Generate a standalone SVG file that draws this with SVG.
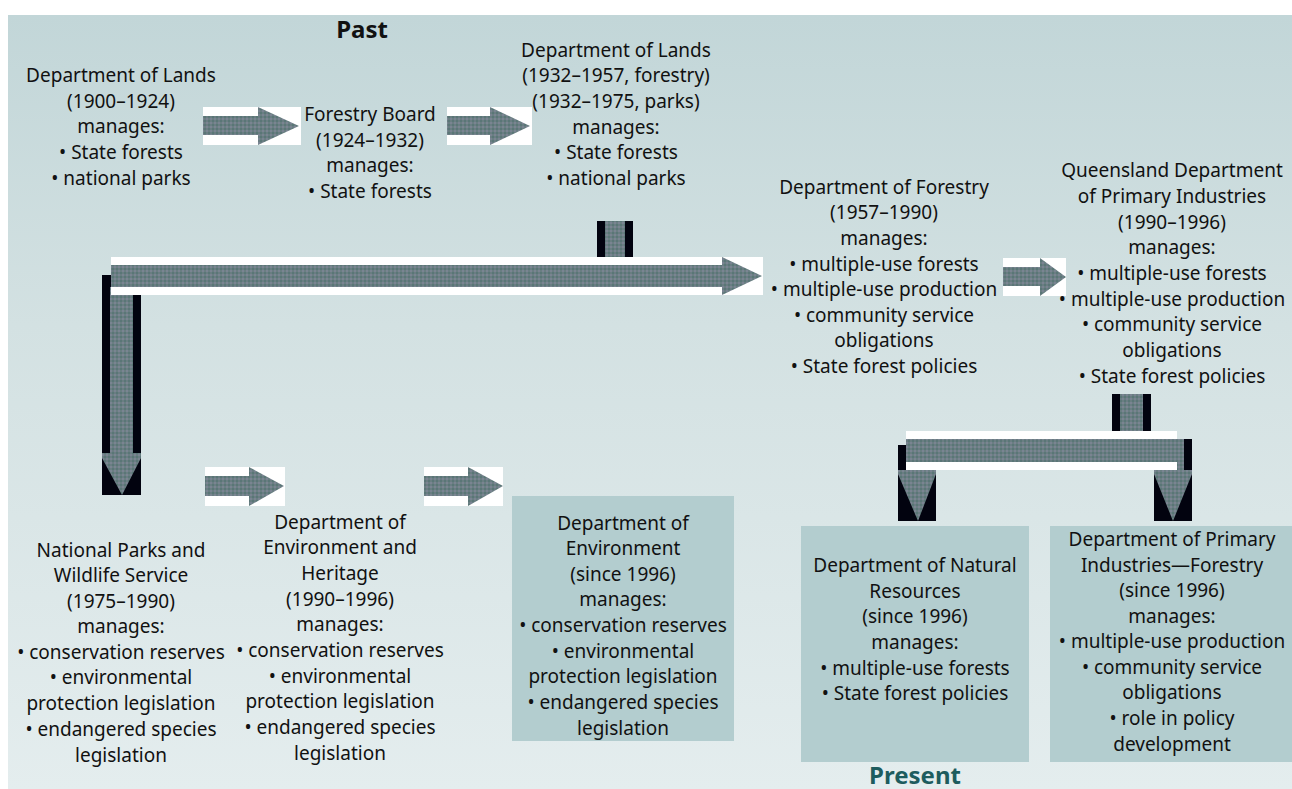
<svg xmlns="http://www.w3.org/2000/svg" width="1292" height="789" viewBox="0 0 1292 789">
<defs>
<linearGradient id="bg" x1="0" y1="0" x2="0" y2="1">
<stop offset="0" stop-color="#c2d6d8"/>
<stop offset="0.4" stop-color="#d3e1e2"/>
<stop offset="1" stop-color="#e4edee"/>
</linearGradient>
<pattern id="chk" width="4" height="4" patternUnits="userSpaceOnUse">
<rect width="4" height="4" fill="#6a7e82"/>
<rect width="2" height="2" fill="#5a7677"/>
<rect x="2" y="2" width="2" height="2" fill="#7a8492"/>
</pattern>
<style>
text{font-family:"Noto Sans","Open Sans",sans-serif;font-size:19px;fill:#111;text-anchor:middle}
.ttl{font-weight:bold;font-size:24px}
.pres{fill:#1d5c5e}
.box{fill:#b3cdcf}
.wb{fill:#fff}
.blk{fill:#02030f}
.ar{fill:url(#chk)}
</style>
</defs>
<rect x="0" y="0" width="1292" height="789" fill="#fff"/>
<rect x="8" y="15" width="1284" height="774" fill="url(#bg)"/>

<g id="connectors">
<rect class="wb" x="203" y="107" width="98" height="38"/>
<polygon class="ar" points="203,116 258,116 258,107 299,126 258,145 258,135 203,135"/>
<rect class="wb" x="447" y="107" width="85" height="38"/>
<polygon class="ar" points="447,116 490,116 490,107 530,126 490,145 490,135 447,135"/>
<rect class="blk" x="597" y="221" width="36" height="36"/>
<rect class="ar" x="605" y="221" width="20" height="36"/>
<rect class="blk" x="102" y="275" width="39" height="220"/>
<polygon class="ar" points="110,287 133,287 133,453 141,453 141,458 122,495 102,458 102,453 110,453"/>
<rect class="wb" x="111" y="257" width="652" height="38"/>
<polygon class="ar" points="111,265 722,265 722,257 762,276 722,295 722,287 111,287"/>
<rect class="wb" x="1003" y="258" width="63" height="38"/>
<polygon class="ar" points="1003,267 1040,267 1040,258 1066,277 1040,296 1040,286 1003,286"/>
<rect class="blk" x="1112" y="394" width="39" height="37"/>
<rect class="ar" x="1120" y="394" width="23" height="37"/>
<rect class="blk" x="898" y="445" width="38" height="76"/>
<polygon class="ar" points="906,445 928,445 928,470 936,470 936,474 918,521 898,474 898,470 906,470"/>
<rect class="blk" x="1154" y="439" width="38" height="82"/>
<polygon class="ar" points="1162,439 1184,439 1184,470 1192,470 1192,474 1173,521 1154,474 1154,470 1162,470"/>
<rect class="wb" x="906" y="431" width="271" height="39"/>
<rect class="ar" x="906" y="439" width="278" height="23"/>
<rect class="wb" x="205" y="467" width="80" height="39"/>
<polygon class="ar" points="205,476 249,476 249,467 284,486 249,506 249,496 205,496"/>
<rect class="wb" x="424" y="467" width="79" height="39"/>
<polygon class="ar" points="424,476 468,476 468,467 503,486 468,506 468,496 424,496"/>
</g>

<text class="ttl" x="362" y="38">Past</text>

<g id="lands1">
<text x="121" y="82">Department of Lands</text>
<text x="121" y="108">(1900–1924)</text>
<text x="121" y="133">manages:</text>
<text x="121" y="159">• State forests</text>
<text x="121" y="185">• national parks</text>
</g>

<g id="forestryBoard">
<text x="370" y="121">Forestry Board</text>
<text x="370" y="147">(1924–1932)</text>
<text x="370" y="172">manages:</text>
<text x="370" y="198">• State forests</text>
</g>

<g id="lands2">
<text x="616" y="57">Department of Lands</text>
<text x="616" y="82">(1932–1957, forestry)</text>
<text x="616" y="108">(1932–1975, parks)</text>
<text x="616" y="134">manages:</text>
<text x="616" y="159">• State forests</text>
<text x="616" y="185">• national parks</text>
</g>

<g id="forestry">
<text x="884" y="194">Department of Forestry</text>
<text x="884" y="219">(1957–1990)</text>
<text x="884" y="245">manages:</text>
<text x="884" y="271">• multiple-use forests</text>
<text x="884" y="296">• multiple-use production</text>
<text x="884" y="322">• community service</text>
<text x="884" y="347">obligations</text>
<text x="884" y="373">• State forest policies</text>
</g>

<g id="qdpi">
<text x="1172" y="177">Queensland Department</text>
<text x="1172" y="203">of Primary Industries</text>
<text x="1172" y="229">(1990–1996)</text>
<text x="1172" y="254">manages:</text>
<text x="1172" y="280">• multiple-use forests</text>
<text x="1172" y="306">• multiple-use production</text>
<text x="1172" y="331">• community service</text>
<text x="1172" y="357">obligations</text>
<text x="1172" y="383">• State forest policies</text>
</g>

<g id="npws">
<text x="121" y="557">National Parks and</text>
<text x="121" y="582">Wildlife Service</text>
<text x="121" y="608">(1975–1990)</text>
<text x="121" y="633">manages:</text>
<text x="121" y="659">• conservation reserves</text>
<text x="121" y="684">• environmental</text>
<text x="121" y="710">protection legislation</text>
<text x="121" y="736">• endangered species</text>
<text x="121" y="762">legislation</text>
</g>

<g id="envHeritage">
<text x="340" y="529">Department of</text>
<text x="340" y="554">Environment and</text>
<text x="340" y="580">Heritage</text>
<text x="340" y="606">(1990–1996)</text>
<text x="340" y="631">manages:</text>
<text x="340" y="657">• conservation reserves</text>
<text x="340" y="683">• environmental</text>
<text x="340" y="708">protection legislation</text>
<text x="340" y="734">• endangered species</text>
<text x="340" y="760">legislation</text>
</g>

<g id="environment">
<rect class="box" x="512" y="496" width="222" height="245"/>
<text x="623" y="530">Department of</text>
<text x="623" y="555">Environment</text>
<text x="623" y="581">(since 1996)</text>
<text x="623" y="606">manages:</text>
<text x="623" y="632">• conservation reserves</text>
<text x="623" y="658">• environmental</text>
<text x="623" y="683">protection legislation</text>
<text x="623" y="709">• endangered species</text>
<text x="623" y="735">legislation</text>
</g>

<g id="naturalResources">
<rect class="box" x="801" y="526" width="228" height="236"/>
<text x="915" y="572">Department of Natural</text>
<text x="915" y="598">Resources</text>
<text x="915" y="623">(since 1996)</text>
<text x="915" y="649">manages:</text>
<text x="915" y="675">• multiple-use forests</text>
<text x="915" y="700">• State forest policies</text>
</g>

<g id="dpiForestry">
<rect class="box" x="1050" y="526" width="242" height="236"/>
<text x="1172" y="546">Department of Primary</text>
<text x="1172" y="572">Industries—Forestry</text>
<text x="1172" y="597">(since 1996)</text>
<text x="1172" y="623">manages:</text>
<text x="1172" y="648">• multiple-use production</text>
<text x="1172" y="674">• community service</text>
<text x="1172" y="699">obligations</text>
<text x="1172" y="725">• role in policy</text>
<text x="1172" y="751">development</text>
</g>

<text class="ttl pres" x="915" y="784">Present</text>
</svg>
